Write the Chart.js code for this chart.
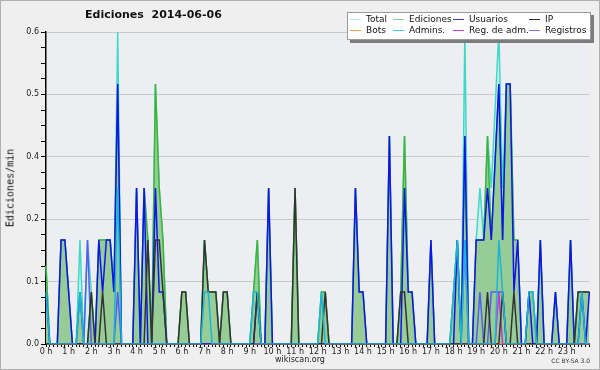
<!DOCTYPE html>
<html>
<head>
<meta charset="utf-8">
<script src="https://cdn.jsdelivr.net/npm/chart.js@4.4.1/dist/chart.umd.min.js"></script>
<style>
  body { margin: 0; background: #efefef; font-family: "DejaVu Sans", sans-serif; }
  #wrap { position: relative; width: 600px; height: 370px; overflow: hidden; }
  #frame { position: absolute; left: 0; top: 0; width: 600px; height: 370px; box-sizing: border-box; border: 1px solid #b0b0b0; pointer-events: none; }
  canvas { position: absolute; left: 0; top: 0; }
  .txt { position: absolute; white-space: nowrap; color: #111; }
  #title { left: 85px; top: 8px; font: bold 11px "DejaVu Sans"; line-height: 14px; }
  #ytitle { left: 10px; top: 188px; font: 10px "DejaVu Sans Mono"; transform: translate(-50%, -50%) rotate(-90deg); }
  #site { left: 0; width: 600px; top: 355px; text-align: center; font: 8px "DejaVu Sans"; line-height: 10px; color: #222; }
  #lic { right: 10px; top: 357px; font: 6px "DejaVu Sans"; line-height: 8px; color: #333; }
  #legend { position: absolute; left: 347px; top: 12px; width: 242px; height: 26px; background: #fff; border: 1px solid #9a9a9a; box-shadow: 3px 3px 0 #7c7c7c; }
  .sw { position: absolute; width: 11px; height: 1px; }
  .lt { position: absolute; font: 9px "DejaVu Sans"; line-height: 11px; color: #111; white-space: nowrap; }
</style>
</head>
<body>
<div id="wrap">
  <canvas id="myChart" width="600" height="370"></canvas>
  <div class="txt" id="title">Ediciones&nbsp;&nbsp;2014-06-06</div>
  <div class="txt" id="ytitle">Ediciones/min</div>
  <div class="txt" id="site">wikiscan.org</div>
  <div class="txt" id="lic">CC BY-SA 3.0</div>
  <div id="legend"></div>
  <div id="frame"></div>
</div>
<script>
// 10 minute bins, 00:00 .. 24:00, edits per minute
const total = [
  0.15,0,0,0,0.2,0.2,  0.1,0,0,0.2,0,0.2,  0.1,0,0.2,0.2,0.2,0.2,  0.1,0.6,0,0,0,0,
  0.3,0,0.3,0.2,0,0.5,  0.3,0.2,0,0,0,0,  0.1,0.1,0,0,0,0,  0.2,0.1,0.1,0.1,0,0.1,
  0.1,0,0,0,0,0,  0,0.1,0.2,0,0,0.3,  0,0,0,0,0,0,  0.3,0,0,0,0,0,
  0,0.1,0.1,0,0,0,  0,0,0,0,0.3,0.1,  0.1,0,0,0,0,0,  0,0.4,0,0,0.1,0.4,
  0.1,0.1,0,0,0,0,  0.2,0,0,0,0,0,  0.1,0.2,0,0.6,0,0,  0.2,0.3,0.2,0.4,0.3,0.45,
  0.6,0.3,0.5,0.5,0.2,0.2,  0,0,0.1,0.1,0,0.2,  0,0,0,0.1,0,0,  0,0.2,0,0.1,0.1,0.1,
  0.1
];
const ediciones = [
  0.15,0,0,0,0.2,0.2,  0.1,0,0,0.1,0,0,  0.1,0,0.2,0.2,0.2,0.2,  0.1,0.5,0,0,0,0,
  0.3,0,0.3,0.2,0,0.5,  0.3,0.2,0,0,0,0,  0.1,0.1,0,0,0,0,  0.2,0.1,0.1,0.1,0,0.1,
  0.1,0,0,0,0,0,  0,0.1,0.2,0,0,0.3,  0,0,0,0,0,0,  0.3,0,0,0,0,0,
  0,0.1,0.1,0,0,0,  0,0,0,0,0.3,0.1,  0.1,0,0,0,0,0,  0,0.4,0,0,0.1,0.4,
  0.1,0.1,0,0,0,0,  0.2,0,0,0,0,0,  0.1,0.2,0,0.4,0,0,  0.2,0.2,0.2,0.4,0.2,0.35,
  0.5,0.2,0.5,0.5,0.2,0.2,  0,0,0.1,0.1,0,0.2,  0,0,0,0.1,0,0,  0,0.2,0,0.1,0.1,0.1,
  0.1
];
const usuarios = [
  0.1,0,0,0,0.2,0.2,  0.1,0,0,0,0,0,  0,0,0.2,0.1,0.2,0.2,  0.1,0.5,0,0,0,0,
  0.3,0,0.3,0,0,0.3,  0.1,0.1,0,0,0,0,  0,0,0,0,0,0,  0,0,0,0,0,0,
  0,0,0,0,0,0,  0,0,0.1,0,0,0.3,  0,0,0,0,0,0,  0,0,0,0,0,0,
  0,0,0,0,0,0,  0,0,0,0,0.3,0.1,  0.1,0,0,0,0,0,  0,0.4,0,0,0,0.3,
  0.1,0.1,0,0,0,0,  0.2,0,0,0,0,0,  0,0.2,0,0.4,0,0,  0.2,0.2,0.2,0.3,0.2,0.35,
  0.5,0.2,0.5,0.5,0.1,0.2,  0,0,0.1,0,0,0.2,  0,0,0,0.1,0,0,  0,0.2,0,0,0.1,0,
  0.1
];
const ip = [
  0,0,0,0,0,0,  0,0,0,0,0,0,  0.1,0,0,0.1,0,0,  0,0,0,0,0,0,
  0,0,0,0.2,0,0.2,  0.2,0.1,0,0,0,0,  0.1,0.1,0,0,0,0,  0.2,0.1,0.1,0.1,0,0.1,
  0.1,0,0,0,0,0,  0,0,0.1,0,0,0,  0,0,0,0,0,0,  0.3,0,0,0,0,0,
  0,0,0.1,0,0,0,  0,0,0,0,0,0,  0,0,0,0,0,0,  0,0,0,0,0.1,0.1,
  0,0,0,0,0,0,  0,0,0,0,0,0,  0,0,0,0,0,0,  0,0,0,0.1,0,0,
  0,0.1,0,0,0.1,0,  0,0,0,0,0,0,  0,0,0,0,0,0,  0,0,0,0.1,0.1,0.1,
  0.1
];
const bots = [
  0,0,0,0,0,0,  0,0,0,0,0,0,  0,0,0,0,0,0,  0,0,0,0,0,0,
  0,0,0,0,0,0,  0,0,0,0,0,0,  0,0,0,0,0,0,  0,0,0,0,0,0,
  0,0,0,0,0,0,  0,0,0,0,0,0,  0,0,0,0,0,0,  0,0,0,0,0,0,
  0,0,0,0,0,0,  0,0,0,0,0,0,  0,0,0,0,0,0,  0,0,0,0,0,0,
  0,0,0,0,0,0,  0,0,0,0,0,0,  0,0,0,0,0,0,  0,0,0,0,0,0,
  0,0,0,0,0,0,  0,0,0,0,0,0,  0,0,0,0,0,0,  0,0,0,0,0,0,
  0
];
const admins = [
  0.1,0,0,0,0,0,  0,0,0,0.1,0,0,  0,0,0,0,0,0,  0,0.3,0,0,0,0,
  0,0,0,0,0,0,  0,0,0,0,0,0,  0,0,0,0,0,0,  0.1,0.1,0,0,0,0,
  0,0,0,0,0,0,  0,0.1,0.1,0,0,0,  0,0,0,0,0,0,  0,0,0,0,0,0,
  0,0.1,0,0,0,0,  0,0,0,0,0,0,  0,0,0,0,0,0,  0,0,0,0,0,0,
  0,0,0,0,0,0,  0,0,0,0,0,0,  0.1,0.2,0,0.2,0,0,  0,0,0,0,0,0,
  0.2,0.1,0,0,0,0,  0,0,0.1,0.1,0,0,  0,0,0,0,0,0,  0,0,0,0,0.1,0,
  0
];
const regAdm = [
  0,0,0,0,0,0,  0,0,0,0,0,0,  0,0,0,0,0,0,  0,0,0,0,0,0,
  0,0,0,0,0,0,  0,0,0,0,0,0,  0,0,0,0,0,0,  0,0,0,0,0,0,
  0,0,0,0,0,0,  0,0,0,0,0,0,  0,0,0,0,0,0,  0,0,0,0,0,0,
  0,0,0,0,0,0,  0,0,0,0,0,0,  0,0,0,0,0,0,  0,0,0,0,0,0,
  0,0,0,0,0,0,  0,0,0,0,0,0,  0,0,0,0,0,0,  0,0,0,0,0,0,
  0.1,0,0,0,0,0,  0,0,0,0,0,0,  0,0,0,0,0,0,  0,0,0,0,0,0,
  0
];
const registros = [
  0,0,0,0,0,0,  0,0,0,0.1,0,0.2,  0,0,0,0,0,0,  0,0.1,0,0,0,0,
  0,0,0,0,0,0,  0,0,0,0,0,0,  0,0,0,0,0,0,  0,0,0,0,0,0,
  0,0,0,0,0,0,  0,0,0,0,0,0,  0,0,0,0,0,0,  0,0,0,0,0,0,
  0,0,0,0,0,0,  0,0,0,0,0,0,  0,0,0,0,0,0,  0,0,0,0,0,0,
  0,0,0,0,0,0,  0,0,0,0,0,0,  0,0,0,0.2,0,0,  0,0.1,0,0,0.1,0.1,
  0.1,0.1,0,0,0,0,  0,0,0,0,0,0,  0,0,0,0,0,0,  0,0,0,0,0,0,
  0
];

const hourLabels = ["0 h","1 h","2 h","3 h","4 h","5 h","6 h","7 h","8 h","9 h","10 h","11 h",
  "12 h","13 h","14 h","15 h","16 h","17 h","18 h","19 h","20 h","21 h","22 h","23 h"];
const yLabels = ["0.0","0.1","0.2","0.4","0.5","0.6"];

// time of each bin
let times = [];
for (let i = 0; i <= 144; i++) {
  let h = Math.floor(i / 6), m = (i % 6) * 10;
  times.push(String(h).padStart(2, "0") + ":" + String(m).padStart(2, "0"));
}

const legendItems = [
  ["Total", "#b8ebe6"], ["Ediciones", "#8fd08f"], ["Usuarios", "#3c3cdc"], ["IP", "#333333"],
  ["Bots", "#f0a040"], ["Admins.", "#40c8dc"], ["Reg. de adm.", "#d040d8"], ["Registros", "#7878f0"]
];
let lg = document.getElementById("legend");
let colX = [2, 45, 105, 181];
legendItems.forEach((it, k) => {
  let row = Math.floor(k / 4), col = k % 4;
  let sw = document.createElement("div");
  sw.className = "sw";
  sw.style.left = colX[col] + "px";
  sw.style.top = (6 + row * 11) + "px";
  sw.style.background = it[1];
  lg.appendChild(sw);
  let t = document.createElement("div");
  t.className = "lt";
  t.style.left = (colX[col] + 16) + "px";
  t.style.top = (1 + row * 11) + "px";
  t.textContent = it[0];
  lg.appendChild(t);
});

const plotBg = {
  id: "plotBg",
  beforeDraw(chart) {
    let a = chart.chartArea, ctx = chart.ctx;
    ctx.save();
    ctx.fillStyle = "#edeef1";
    ctx.fillRect(a.left, a.top, a.right - a.left, a.bottom - a.top);
    ctx.restore();
  }
};

function line(label, data, color, order, extra) {
  return Object.assign({ label: label, data: data, borderColor: color, borderWidth: 1.5,
    pointRadius: 0, tension: 0, fill: false, order: order }, extra || {});
}

new Chart(document.getElementById("myChart"), {
  type: "line",
  data: {
    labels: times,
    datasets: [
      line("Total", total, "#3fd8c8", 9, { fill: "origin", backgroundColor: "#d2efeb" }),
      line("Ediciones", ediciones, "#3cb43c", 8, { fill: "origin", backgroundColor: "#97cc97" }),
      line("Usuarios", usuarios, "#1212f0", 4),
      line("IP", ip, "#333333", 3),
      line("Bots", bots, "#f0a030", 7),
      line("Admins.", admins, "#18b6d8", 2),
      line("Reg. de adm.", regAdm, "#d030d0", 6),
      line("Registros", registros, "#5a5af0", 5)
    ]
  },
  options: {
    responsive: false,
    animation: false,
    layout: { padding: { top: 32, right: 10.6, left: 0, bottom: 0 } },
    plugins: { legend: { display: false }, tooltip: { enabled: false } },
    scales: {
      x: {
        type: "category",
        offset: false,
        z: 1,
        border: { color: "#000", width: 1.5 },
        grid: { drawOnChartArea: false, tickLength: 3, color: "#000", tickWidth: 1 },
        ticks: {
          autoSkip: false, maxRotation: 0, minRotation: 0, padding: 0,
          color: "#222", font: { family: "DejaVu Sans", size: 8 },
          callback: (v, i) => (i % 6 === 0 && i / 6 < 24) ? hourLabels[i / 6] : ""
        },
        afterFit: s => { s.height = 26; }
      },
      y: {
        min: 0, max: 0.6,
        border: { color: "#000", width: 1.5 },
        grid: {
          color: c => c.index % 4 === 0 ? "#cacaca" : "rgba(0,0,0,0)",
          tickColor: "#000", tickLength: 5
        },
        ticks: {
          stepSize: 0.03, padding: 2, autoSkip: false,
          color: "#222", font: { family: "DejaVu Sans", size: 8 },
          callback: (v, i) => i % 4 === 0 ? yLabels[i / 4] : ""
        },
        afterFit: s => { s.width = 46; }
      }
    }
  },
  plugins: [plotBg]
});
</script>
</body>
</html>
